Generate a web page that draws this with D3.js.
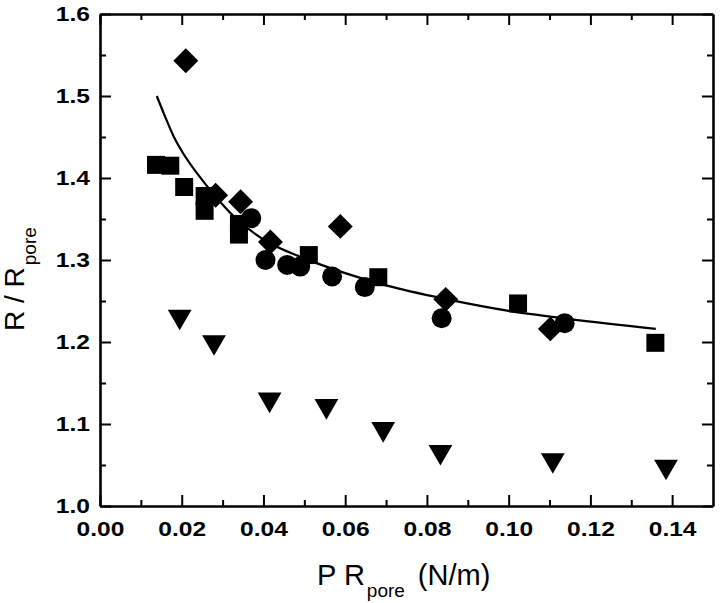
<!DOCTYPE html>
<html>
<head>
    <title>R / Rpore vs P Rpore</title>
    <script src="https://d3js.org/d3.v7.min.js"></script>
    <style>
        body { margin: 0; background: #fff; }
        .axis path, .axis line { stroke: #000; }
        .axis path { stroke-width: 2.6; }
        .axis line { stroke-width: 2; }
        .axis text { font-family: "Liberation Sans", Arial, sans-serif; font-size: 21px; font-weight: bold; fill: #000; }
        .title { font-family: "Liberation Sans", Arial, sans-serif; fill: #000; }
    </style>
</head>
<body>
    <div id="chart"></div>
    <script>
        // data
        const squareX = [0.0137, 0.0172, 0.0206, 0.0256, 0.0256, 0.0340, 0.0340, 0.0511, 0.0681, 0.1023, 0.1359];
        const squareY = [1.416, 1.415, 1.389, 1.378, 1.360, 1.344, 1.331, 1.306, 1.279, 1.247, 1.199];

        const diamondX = [0.0210, 0.0283, 0.0344, 0.0417, 0.0588, 0.0846, 0.1102];
        const diamondY = [1.543, 1.379, 1.371, 1.322, 1.341, 1.252, 1.216];

        const circleX = [0.0370, 0.0405, 0.0458, 0.0490, 0.0568, 0.0648, 0.0836, 0.1137];
        const circleY = [1.351, 1.300, 1.294, 1.292, 1.280, 1.267, 1.229, 1.223];

        const triX = [0.0195, 0.0279, 0.0415, 0.0554, 0.0693, 0.0833, 0.1108, 0.1385];
        const triY = [1.231, 1.200, 1.130, 1.122, 1.094, 1.066, 1.056, 1.048];

        const fitX = [0.0139, 0.016, 0.018, 0.020, 0.024, 0.028, 0.033, 0.040, 0.050, 0.060, 0.070, 0.085, 0.100, 0.115, 0.136];
        const fitY = [1.500, 1.474, 1.451, 1.433, 1.404, 1.379, 1.352, 1.325, 1.302, 1.284, 1.269, 1.252, 1.238, 1.228, 1.216];

        const xMajor = [0, 0.02, 0.04, 0.06, 0.08, 0.10, 0.12, 0.14];
        const xMinor = [0.01, 0.03, 0.05, 0.07, 0.09, 0.11, 0.13];
        const yMajor = [1.0, 1.1, 1.2, 1.3, 1.4, 1.5, 1.6];
        const yMinor = [1.05, 1.15, 1.25, 1.35, 1.45, 1.55];

        const width = 720, height = 603;
        const mLeft = 100, mRight = 713, mTop = 14, mBottom = 506;
        const stretch = 1.17; // tick labels in the scan are wider than Arial

        const svg = d3.select("#chart").append("svg")
            .attr("width", width)
            .attr("height", height);

        const x = d3.scaleLinear().domain([0, 0.15]).range([mLeft, mRight]);
        const y = d3.scaleLinear().domain([1.0, 1.6]).range([mBottom, mTop]);

        // axes, ticks pointing inward on all four sides
        function addAxis(gen, tx, ty, major, minor, fmt) {
            const g = svg.append("g").attr("class", "axis")
                .attr("transform", `translate(${tx},${ty})`);
            g.call(gen(major).tickSizeInner(-11).tickSizeOuter(0).tickFormat(fmt));
            const gm = svg.append("g").attr("class", "axis")
                .attr("transform", `translate(${tx},${ty})`);
            gm.call(gen(minor).tickSizeInner(-6).tickSizeOuter(0).tickFormat(""));
            gm.select(".domain").remove();
            return g;
        }

        addAxis(v => d3.axisBottom(x).tickValues(v).tickPadding(15.5), 0, mBottom, xMajor, xMinor, d3.format(".2f"));
        addAxis(v => d3.axisLeft(y).tickValues(v).tickPadding(10), mLeft, 0, yMajor, yMinor, d3.format(".1f"));
        addAxis(v => d3.axisTop(x).tickValues(v), 0, mTop, xMajor, xMinor, "");
        addAxis(v => d3.axisRight(y).tickValues(v), mRight, 0, yMajor, yMinor, "");

        svg.selectAll(".axis text").each(function () {
            const t = d3.select(this);
            const tx0 = +t.attr("x") || 0;
            t.attr("x", tx0 / stretch).attr("transform", `scale(${stretch},1)`);
        });

        // fitted curve
        const line = d3.line().x(d => x(d[0])).y(d => y(d[1])).curve(d3.curveMonotoneX);
        svg.append("path")
            .datum(d3.zip(fitX, fitY))
            .attr("d", line)
            .attr("fill", "none")
            .attr("stroke", "#000")
            .attr("stroke-width", 2.2);

        function plot(xs, ys, type, size, rot) {
            svg.append("g").selectAll("path")
                .data(d3.zip(xs, ys))
                .enter()
                .append("path")
                .attr("d", d3.symbol().type(type).size(size))
                .attr("transform", d => `translate(${x(d[0])},${y(d[1])}) rotate(${rot})`)
                .attr("fill", "#000");
        }

        plot(triX, triY, d3.symbolTriangle, 245, 180);
        plot(squareX, squareY, d3.symbolSquare, 324, 0);
        plot(diamondX, diamondY, d3.symbolSquare, 310, 45);
        plot(circleX, circleY, d3.symbolCircle, 314, 0);

        // axis titles
        const xt = svg.append("text").attr("class", "title").attr("font-size", 29)
            .attr("x", 317).attr("y", 585);
        xt.append("tspan").text("P R");
        xt.append("tspan").attr("font-size", 19).attr("dy", 12).attr("dx", 2).text("pore");
        xt.append("tspan").attr("dy", -12).attr("dx", 13).text("(N/m)");

        const yt = svg.append("text").attr("class", "title").attr("font-size", 28)
            .attr("transform", "translate(24,331) rotate(-90)");
        yt.append("tspan").text("R / R");
        yt.append("tspan").attr("font-size", 19).attr("dy", 12).attr("dx", 2).text("pore");
    </script>
</body>
</html>
